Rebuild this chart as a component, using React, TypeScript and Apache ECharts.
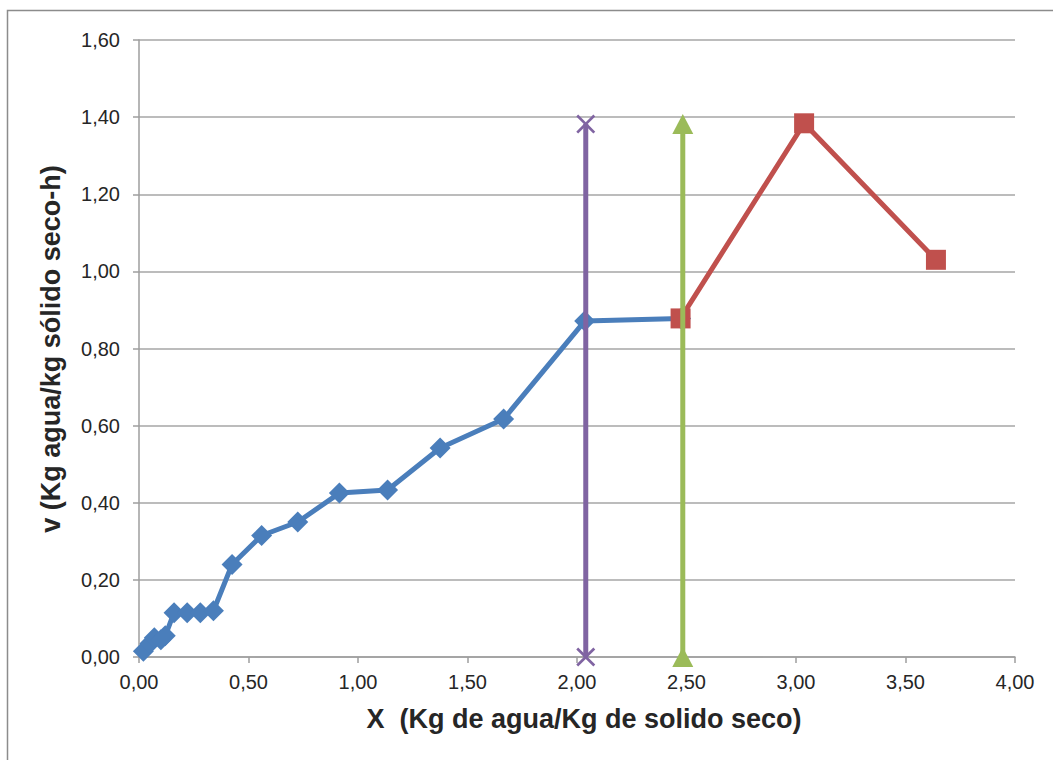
import React, { useEffect, useRef } from "react";
import * as echarts from "echarts";

// Drying-rate data: moisture content X vs drying rate v
const blueX = [0.02, 0.05, 0.07, 0.1, 0.12, 0.16, 0.22, 0.28, 0.34, 0.425, 0.56, 0.725, 0.915, 1.135, 1.375, 1.665, 2.035, 2.473];
const blueV = [0.015, 0.035, 0.05, 0.045, 0.055, 0.115, 0.115, 0.115, 0.12, 0.24, 0.315, 0.35, 0.425, 0.433, 0.542, 0.617, 0.871, 0.878];

const redX = [2.473, 3.037, 3.639];
const redV = [0.878, 1.384, 1.03];

// Vertical reference lines (critical moisture markers)
const purpleX = [2.04, 2.04];
const purpleV = [0, 1.382];
const greenX = [2.483, 2.483];
const greenV = [0, 1.382];

const xTicks = { min: 0, max: 4, interval: 0.5 };
const yTicks = { min: 0, max: 1.6, interval: 0.2 };

const xTitle = "X  (Kg de agua/Kg de solido seco)";
const yTitle = "v (Kg agua/kg sólido seco-h)";

const pairs = (xs: number[], ys: number[]) => xs.map((x, i) => [x, ys[i]]);
const fmt = (v: number) => v.toFixed(2).replace(".", ",");

const X_MARK = "path://M0,1L1,0L5,4L9,0L10,1L6,5L10,9L9,10L5,6L1,10L0,9L4,5Z";
const FONT = "'Liberation Sans', Arial, sans-serif";

export default function App() {
  const ref = useRef<HTMLDivElement>(null);

  useEffect(() => {
    document.body.style.margin = "0";
    if (!ref.current) return;
    const chart = echarts.init(ref.current, undefined, { renderer: "svg" });
    const axisColor = "#9e9e9e";
    chart.setOption({
      animation: false,
      backgroundColor: "#ffffff",
      textStyle: { fontFamily: FONT },
      grid: { left: 139, top: 40, width: 876, height: 617, containLabel: false },
      xAxis: {
        type: "value",
        min: xTicks.min,
        max: xTicks.max,
        interval: xTicks.interval,
        axisLine: { show: true, lineStyle: { color: axisColor, width: 1.5 } },
        axisTick: { show: true, length: 6, lineStyle: { color: axisColor, width: 1.5 } },
        axisLabel: { formatter: fmt, fontSize: 20, color: "#262626", margin: 15, fontFamily: FONT },
        splitLine: { show: false },
      },
      yAxis: {
        type: "value",
        min: yTicks.min,
        max: yTicks.max,
        interval: yTicks.interval,
        axisLine: { show: true, lineStyle: { color: axisColor, width: 1.5 } },
        axisTick: { show: true, length: 6, lineStyle: { color: axisColor, width: 1.5 } },
        axisLabel: { formatter: fmt, fontSize: 20, color: "#262626", margin: 19, fontFamily: FONT },
        splitLine: { show: true, lineStyle: { color: "#a6a6a6", width: 1.5 } },
      },
      graphic: [
        {
          type: "rect",
          shape: { x: 7.5, y: 10.5, width: 1060, height: 780 },
          style: { fill: "none", stroke: "#8c8c8c", lineWidth: 1.5 },
          silent: true,
        },
        {
          type: "text",
          x: 584,
          y: 719,
          style: { text: xTitle, font: `bold 27px ${FONT}`, fill: "#262626", align: "center", verticalAlign: "middle" },
        },
        {
          type: "text",
          x: 51,
          y: 349,
          rotation: Math.PI / 2,
          style: { text: yTitle, font: `bold 27px ${FONT}`, fill: "#262626", align: "center", verticalAlign: "middle" },
        },
      ],
      series: [
        {
          type: "line",
          data: pairs(blueX, blueV),
          symbol: "diamond",
          symbolSize: 21,
          lineStyle: { color: "#4A7EBB", width: 5 },
          itemStyle: { color: "#4A7EBB" },
          z: 2,
        },
        {
          type: "line",
          data: pairs(redX, redV),
          symbol: "rect",
          symbolSize: 20,
          lineStyle: { color: "#C0504D", width: 5 },
          itemStyle: { color: "#C0504D" },
          z: 3,
        },
        {
          type: "line",
          data: pairs(purpleX, purpleV),
          symbol: X_MARK,
          symbolSize: 19,
          lineStyle: { color: "#8064A2", width: 5 },
          itemStyle: { color: "#8064A2" },
          z: 4,
        },
        {
          type: "line",
          data: pairs(greenX, greenV),
          symbol: "triangle",
          symbolSize: [21, 20],
          lineStyle: { color: "#9BBB59", width: 5 },
          itemStyle: { color: "#9BBB59" },
          z: 5,
        },
      ],
    });
    return () => chart.dispose();
  }, []);

  return <div ref={ref} style={{ width: 1053, height: 760 }} />;
}
